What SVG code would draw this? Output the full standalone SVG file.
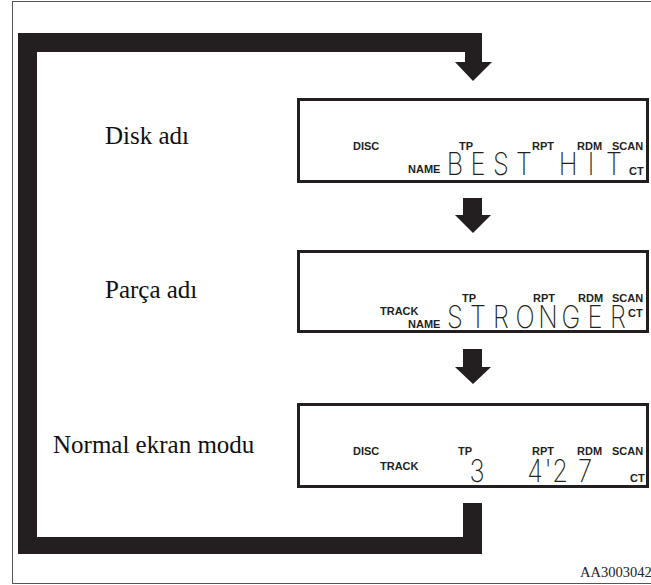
<svg xmlns="http://www.w3.org/2000/svg" width="651" height="585" viewBox="0 0 651 585">
<style>
.frame{fill:none;stroke:#555;stroke-width:1}
.loop{fill:#231f20}
.box{fill:#fff;stroke:#231f20;stroke-width:3}
.lbl{font-family:"Liberation Serif","Times New Roman",serif;font-size:25px;fill:#111}
.ind{font-family:"Liberation Sans",Arial,sans-serif;font-weight:bold;font-size:11px;fill:#231f20}
.lcd{font-family:Inter,"DejaVu Sans",sans-serif;font-weight:200;font-size:31px;fill:#231f20;text-anchor:middle}
.code{font-family:"Liberation Serif","Times New Roman",serif;font-size:14.5px;fill:#222}
</style>
<rect width="651" height="585" fill="#fff"/>
<rect class="frame" x="12.5" y="1.5" width="645" height="582"/>
<g id="connectors">
<path class="loop" d="M18,33 H482 V62 H492 L473,81 L455,62 H465 V52 H37 V537 H463 V503 H482 V554 H18 Z"/>
<path class="loop" d="M463,198 H482 V215 H491 L473,233 L455,215 H463 Z"/>
<path class="loop" d="M463,349 H482 V367 H491 L473,384 L455,367 H463 Z"/>
</g>
<g id="disk">
<text class="lbl" x="105" y="144">Disk adı</text>
<rect class="box" x="298.5" y="99.5" width="349" height="82"/>
<text class="ind" x="353" y="150">DISC</text>
<text class="ind" x="459" y="150">TP</text>
<text class="ind" x="532" y="150">RPT</text>
<text class="ind" x="577" y="150">RDM</text>
<text class="ind" x="612" y="150">SCAN</text>
<text class="ind" x="408" y="173">NAME</text>
<text class="ind" x="629" y="175">CT</text>
<text class="lcd" transform="scale(0.82 1)" x="554.9 582.9 611 639 692.7 720.7 748.8" y="175">BESTHIT</text>
</g>
<g id="track">
<text class="lbl" x="105" y="298">Parça adı</text>
<rect class="box" x="298.5" y="251.5" width="349" height="80"/>
<text class="ind" x="462" y="302">TP</text>
<text class="ind" x="533" y="302">RPT</text>
<text class="ind" x="578" y="302">RDM</text>
<text class="ind" x="612" y="302">SCAN</text>
<text class="ind" x="380" y="315">TRACK</text>
<text class="ind" x="408" y="328">NAME</text>
<text class="ind" x="628" y="317">CT</text>
<text class="lcd" transform="scale(0.82 1)" x="554.9 582.9 611 640.2 668.3 696.3 725.6 753.7" y="328">STRONGER</text>
</g>
<g id="normal">
<text class="lbl" x="53" y="453">Normal ekran modu</text>
<rect class="box" x="298.5" y="404.5" width="349" height="82"/>
<text class="ind" x="353" y="455">DISC</text>
<text class="ind" x="458" y="455">TP</text>
<text class="ind" x="532" y="455">RPT</text>
<text class="ind" x="577" y="455">RDM</text>
<text class="ind" x="612" y="455">SCAN</text>
<text class="ind" x="380" y="470">TRACK</text>
<text class="ind" x="630" y="482">CT</text>
<text class="lcd" transform="scale(0.82 1)" x="581.7" y="482">3</text>
<text class="lcd" transform="scale(0.82 1)" x="652.4 668.3 682.9 713.4" y="482">4'27</text>
</g>
<text class="code" x="580" y="577">AA3003042</text>
</svg>
